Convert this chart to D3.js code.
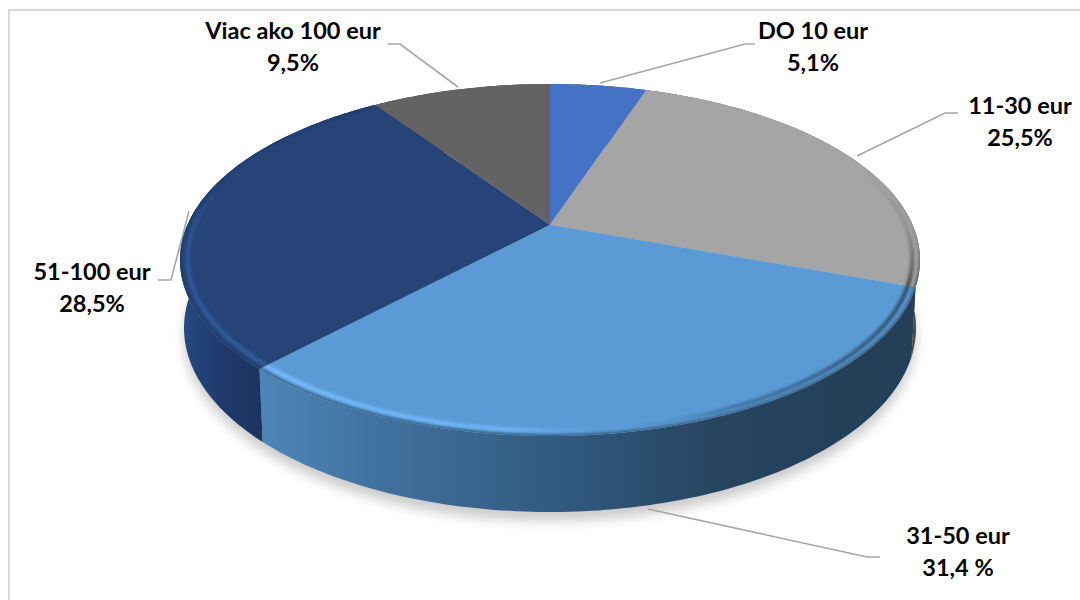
<!DOCTYPE html>
<html>
  <head>
    <title>Pie</title>
    <meta charset="utf-8">
    <style>
        html, body { margin: 0; padding: 0; background: #fff; }
        svg { display: block; }
        .label { font-family: Lato, sans-serif; font-weight: 700; font-size: 23.5px; fill: #000; text-anchor: middle; }
        .leader { fill: none; stroke: #a6a6a6; stroke-width: 1.6px; }
    </style>
  </head>
  <body>
    <script src="https://d3js.org/d3.v7.min.js"></script>
    <script>
        // values
        var categories = ["DO 10 eur", "11-30 eur", "31-50 eur", "51-100 eur", "Viac ako 100 eur"];
        var values = [5.1, 25.5, 31.4, 28.5, 9.5];
        var valueLabels = ["5,1%", "25,5%", "31,4 %", "28,5%", "9,5%"];

        // layout and colours
        var topColors = ["#4472c4", "#a5a5a5", "#5b9bd5", "#264478", "#636363"];
        var labelPos = [[813, 39], [1020, 114], [958, 544], [92, 280], [293, 39]];
        var leaders = [
          [[600, 83], [745, 44], [755, 44]],
          [[857, 156], [945, 113], [958, 113]],
          [[648, 509], [867, 557], [880, 557]],
          [[189, 211], [171, 280], [158, 280]],
          [[458, 87], [400, 44], [388, 44]]
        ];

        var width = 1080, height = 600;
        var topFace = { cx: 550, cy: 260, rx: 370, ry: 176 };
        var bottomFace = { cx: 550, cy: 328, rx: 366, ry: 184 };
        var k = 0.2; // perspective: how far the pie centre sits above the ellipse centre

        // disc angle -> point on the ellipse, r is the radius in the disc
        function project(face, a, r) {
          var u = r * Math.sin(a), v = -r * Math.cos(a);
          var w = 1 - k * v;
          return [
            face.cx + face.rx * u * Math.sqrt(1 - k * k) / w,
            face.cy + face.ry * (v - k) / w
          ];
        }

        function arcPoints(face, a0, a1, r) {
          var n = Math.max(2, Math.ceil((a1 - a0) * 60));
          return d3.range(n + 1).map(function (i) {
            return project(face, a0 + (a1 - a0) * i / n, r);
          });
        }

        var line = d3.line();
        var slices = d3.pie().sort(null)(values);

        var svg = d3.select("body").append("svg")
          .attr("width", width)
          .attr("height", height);
        var defs = svg.append("defs");

        defs.append("filter").attr("id", "shadowBlur")
          .attr("x", "-10%").attr("y", "-10%").attr("width", "120%").attr("height", "120%")
          .append("feGaussianBlur").attr("stdDeviation", 6);
        defs.append("filter").attr("id", "rimBlur")
          .attr("x", "-10%").attr("y", "-10%").attr("width", "120%").attr("height", "120%")
          .append("feGaussianBlur").attr("stdDeviation", 1.8);

        function gradient(id, x1, y1, x2, y2, stops) {
          var g = defs.append("linearGradient").attr("id", id)
            .attr("gradientUnits", "userSpaceOnUse")
            .attr("x1", x1).attr("y1", y1).attr("x2", x2).attr("y2", y2);
          stops.forEach(function (s) {
            g.append("stop").attr("offset", s[0]).attr("stop-color", s[1])
              .attr("stop-opacity", s[2] === undefined ? 1 : s[2]);
          });
        }

        // side walls
        gradient("wall2", 262, 0, 915, 0, [[0, "#4c86b8"], [0.2, "#3f6f9c"], [0.45, "#315a80"], [0.7, "#264460"], [1, "#233e55"]]);
        gradient("wall3", 180, 0, 265, 0, [[0, "#264a82"], [0.5, "#1f3a6b"], [1, "#1c335f"]]);
        var wallFill = ["#2a4474", "#4a4a4a", "url(#wall2)", "url(#wall3)", "#3a3a3a"];

        // bevel on the outer edge of the top faces
        gradient("rim1", 0, 170, 0, 285, [[0, "#555", 0], [0.5, "#666", 0.35], [1, "#444", 1]]);
        gradient("rim2", 262, 0, 915, 0, [[0, "#78bdff"], [0.38, "#6fb6fb"], [0.55, "#5b9bd5", 0.3], [0.72, "#3a6a95", 0.8], [1, "#2b4a66"]]);
        gradient("rim3", 0, 190, 0, 360, [[0, "#2f5a9c", 0], [0.3, "#2f5a9c", 0.9], [1, "#31609f"]]);
        var rimStroke = [null, "url(#rim1)", "url(#rim2)", "url(#rim3)", null];

        var edgeShade = [null, "#555", "#2f5475", "#1f3a6b", null];

        // chart frame
        svg.append("rect")
          .attr("x", 9).attr("y", 10)
          .attr("width", width + 20).attr("height", height + 20)
          .attr("fill", "#fff")
          .attr("stroke", "#d9d9d9")
          .attr("stroke-width", 2);

        // soft shadow under the pie
        svg.append("path")
          .attr("d", line(arcPoints(bottomFace, 0, 2 * Math.PI, 1)) + "Z")
          .attr("transform", "translate(0,9)")
          .attr("fill", "#000")
          .attr("opacity", 0.2)
          .attr("filter", "url(#shadowBlur)");

        svg.selectAll(".leader")
          .data(leaders)
          .enter()
          .append("path")
            .attr("class", "leader")
            .attr("d", function (d) { return line(d); });

        svg.append("g").selectAll("path")
          .data(slices)
          .enter()
          .append("path")
            .attr("d", function (d) {
              var up = arcPoints(topFace, d.startAngle, d.endAngle, 1);
              var down = arcPoints(bottomFace, d.startAngle, d.endAngle, 1).reverse();
              return line(up.concat(down)) + "Z";
            })
            .attr("fill", function (d, i) { return wallFill[i]; });

        function topPath(d) {
          var apex = project(topFace, 0, 0);
          return line([apex].concat(arcPoints(topFace, d.startAngle, d.endAngle, 1))) + "Z";
        }

        svg.append("g").selectAll("path")
          .data(slices)
          .enter()
          .append("path")
            .attr("d", topPath)
            .attr("fill", function (d, i) { return topColors[i]; });

        slices.forEach(function (d, i) {
          if (!rimStroke[i]) return;
          defs.append("clipPath").attr("id", "clip" + i)
            .append("path").attr("d", topPath(d));
          var g = svg.append("g").attr("clip-path", "url(#clip" + i + ")");
          g.append("path")
            .attr("d", line(arcPoints(topFace, d.startAngle - 0.05, d.endAngle + 0.05, 0.98)))
            .attr("fill", "none")
            .attr("stroke", rimStroke[i])
            .attr("stroke-width", 4)
            .attr("filter", "url(#rimBlur)");
          g.append("path")
            .attr("d", line(arcPoints(topFace, d.startAngle - 0.05, d.endAngle + 0.05, 1)))
            .attr("fill", "none")
            .attr("stroke", i == 1 ? rimStroke[i] : edgeShade[i])
            .attr("stroke-width", 3)
            .attr("filter", "url(#rimBlur)");
        });

        var labels = svg.append("g").selectAll("text")
          .data(categories)
          .enter()
          .append("text")
            .attr("class", "label")
            .attr("x", function (d, i) { return labelPos[i][0]; })
            .attr("y", function (d, i) { return labelPos[i][1]; });
        labels.append("tspan").text(function (d) { return d; });
        labels.append("tspan")
          .attr("x", function (d, i) { return labelPos[i][0]; })
          .attr("dy", 32)
          .text(function (d, i) { return valueLabels[i]; });
    </script>
  </body>
</html>
